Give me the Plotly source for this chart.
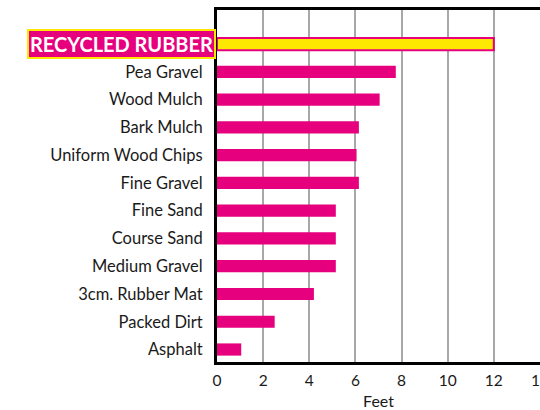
import plotly.graph_objects as go

# Surfacing materials, bottom to top, and the fall height each protects (feet)
materials = ["Asphalt", "Packed Dirt", "3cm. Rubber Mat", "Medium Gravel", "Course Sand",
             "Fine Sand", "Fine Gravel", "Uniform Wood Chips", "Bark Mulch", "Wood Mulch",
             "Pea Gravel", "RECYCLED RUBBER"]
feet = [1.05, 2.5, 4.2, 5.15, 5.15, 5.15, 6.15, 6.05, 6.15, 7.05, 7.75, 12.0]
x_ticks = [0, 2, 4, 6, 8, 10, 12, 14]

MAGENTA = "#E6007E"
YELLOW = "#FCE800"
highlight = "RECYCLED RUBBER"

fill = [YELLOW if m == highlight else MAGENTA for m in materials]
edge = [MAGENTA for m in materials]
edge_w = [2 if m == highlight else 0 for m in materials]

fig = go.Figure(go.Bar(
    x=feet, y=materials, orientation="h", width=0.44,
    marker=dict(color=fill, line=dict(color=edge, width=edge_w)),
))

tick_text = ["" if m == highlight else m for m in materials]

fig.update_layout(
    width=540, height=410,
    margin=dict(l=217, r=0, t=10, b=48),
    plot_bgcolor="white", paper_bgcolor="white",
    font=dict(family="Lato", size=16.5, color="#1a1a1a"),
    showlegend=False,
    xaxis=dict(
        range=[0, 14.001], tickvals=x_ticks, ticktext=[str(v) for v in x_ticks],
        ticklabeloverflow="allow", automargin=False,
        showgrid=True, gridcolor="#A8A8A8", gridwidth=1.5,
        showline=True, linecolor="black", linewidth=3, mirror=True,
        ticks="", zeroline=False, ticklabelstandoff=2,
        tickfont=dict(size=15.5),
        title=dict(text="Feet", standoff=12, font=dict(size=16)),
    ),
    yaxis=dict(
        type="category", categoryorder="array", categoryarray=materials,
        tickvals=materials, ticktext=tick_text,
        range=[-0.45, 12.23], automargin=False,
        showline=True, linecolor="black", linewidth=3,
        showgrid=False, ticks="", ticklabelstandoff=8,
    ),
)

fig.add_annotation(
    x=0, xref="paper", xanchor="right", xshift=-1,
    y=highlight, yref="y",
    text="<b>" + highlight + "</b>", showarrow=False,
    font=dict(family="Lato", size=20, color="white"),
    bgcolor=MAGENTA, bordercolor=YELLOW, borderwidth=2, borderpad=1,
)

fig.write_html("out.html")
